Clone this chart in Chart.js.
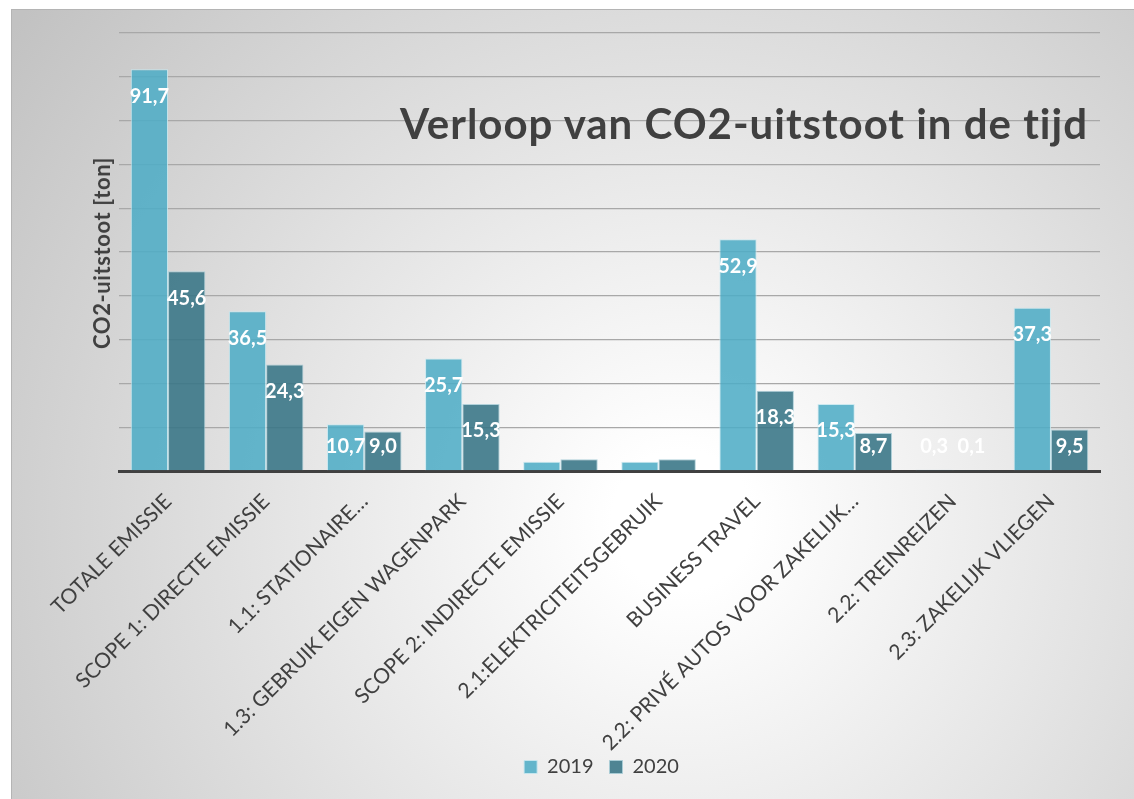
<!DOCTYPE html>
<html>
<head>
<meta charset="utf-8">
<script src="https://cdn.jsdelivr.net/npm/chart.js@4"></script>
<style>
    html, body { margin: 0; padding: 0; background: #ffffff; }
    #frame {
        position: absolute; left: 11px; top: 9px; width: 1130px; height: 800px;
        border-left: 1px solid #b4b4b4; border-top: 1px solid #b4b4b4;
        background: radial-gradient(circle at 670px 510px, #ffffff 0px, #ffffff 70px, #c2c2c2 830px);
    }
    #wrap { position: absolute; left: 0; top: 0; width: 1134px; height: 799px; }
    #titel {
        position: absolute; right: 46px; top: 98px; line-height: 1.2;
        font-family: Lato, sans-serif; font-weight: bold; font-size: 42px;
        letter-spacing: 1px; color: #404040; white-space: nowrap;
    }
    #ytitel {
        position: absolute; left: 102px; top: 253px;
        transform: translate(-50%, -50%) rotate(-90deg);
        font-family: Lato, sans-serif; font-weight: bold; font-size: 22px;
        letter-spacing: 0.6px; color: #404040; white-space: nowrap; line-height: 1;
    }
</style>
</head>
<body>
<div id="frame"></div>
<div id="wrap"><canvas id="chartCO2" width="1134" height="799"></canvas></div>
<div id="titel">Verloop van CO2-uitstoot in de tijd</div>
<div id="ytitel">CO2-uitstoot [ton]</div>
<script>
// Categorieën en waarden (ton CO2)
const categorieen = [
    'TOTALE EMISSIE',
    'SCOPE 1: DIRECTE EMISSIE',
    '1.1: STATIONAIRE…',
    '1.3: GEBRUIK EIGEN WAGENPARK',
    'SCOPE 2: INDIRECTE EMISSIE',
    '2.1:ELEKTRICITEITSGEBRUIK',
    'BUSINESS TRAVEL',
    '2.2: PRIVÉ AUTOS VOOR ZAKELIJK…',
    '2.2: TREINREIZEN',
    '2.3: ZAKELIJK VLIEGEN'
];
const waarden2019 = [91.7, 36.5, 10.7, 25.7, 2.1, 2.1, 52.9, 15.3, 0.3, 37.3];
const waarden2020 = [45.6, 24.3, 9.0, 15.3, 2.7, 2.7, 18.3, 8.7, 0.1, 9.5];
const jaren = ['2019', '2020'];
// categorieën zonder datalabel in het origineel
const zonderLabel = [4, 5];
const yMax = 100;
const yStap = 10;

const FONT = 'Lato, sans-serif';
const TEKST = '#404040';

// Datalabels binnen de bovenkant van de balk
const dataLabelPlugin = {
    id: 'dataLabels',
    afterDatasetsDraw(chart) {
        const ctx = chart.ctx;
        const basis = chart.scales.y.getPixelForValue(0);
        ctx.save();
        ctx.font = 'bold 20px ' + FONT;
        ctx.fillStyle = '#ffffff';
        ctx.textAlign = 'center';
        ctx.textBaseline = 'middle';
        chart.data.datasets.forEach((ds, i) => {
            const meta = chart.getDatasetMeta(i);
            meta.data.forEach((bar, j) => {
                if (zonderLabel.includes(j)) return;
                const y = Math.min(bar.y + 27, basis - 24);
                ctx.fillText(ds.data[j].toFixed(1).replace('.', ','), bar.x, y);
            });
        });
        ctx.restore();
    }
};

// Legenda iets naar rechts en omhoog, zoals in het origineel
const legendaVerschuiving = {
    id: 'legendaVerschuiving',
    afterLayout(chart) {
        const lg = chart.legend;
        if (lg) {
            lg.left += 46;
            lg.right += 46;
            lg.top -= 12;
            lg.bottom -= 12;
        }
    }
};

const ctx = document.getElementById('chartCO2');
new Chart(ctx, {
    type: 'bar',
    data: {
        labels: categorieen,
        datasets: [{
            label: jaren[0],
            data: waarden2019,
            backgroundColor: 'rgba(78, 172, 198, 0.87)',
            borderColor: 'rgba(200, 232, 240, 0.9)',
            borderWidth: 1
        }, {
            label: jaren[1],
            data: waarden2020,
            backgroundColor: 'rgba(55, 116, 133, 0.88)',
            borderColor: 'rgba(170, 205, 215, 0.9)',
            borderWidth: 1
        }]
    },
    options: {
        responsive: false,
        animation: false,
        layout: { padding: { left: 11, right: 34, top: 33, bottom: 0 } },
        categoryPercentage: 0.76,
        barPercentage: 1.0,
        plugins: {
            legend: {
                position: 'bottom',
                labels: {
                    font: { family: FONT, size: 20 },
                    color: TEKST,
                    boxWidth: 13,
                    boxHeight: 13,
                    padding: 16
                }
            },
            tooltip: { enabled: false }
        },
        scales: {
            x: {
                grid: { display: false, drawTicks: false },
                border: { display: true, color: '#404040', width: 3 },
                ticks: {
                    color: TEKST,
                    font: { family: FONT, size: 21 },
                    minRotation: 45,
                    maxRotation: 45,
                    autoSkip: false,
                    padding: 18
                },
                afterFit(scale) { scale.height = 282; }
            },
            y: {
                min: 0,
                max: yMax,
                ticks: { display: false, stepSize: yStap },
                grid: { color: '#a8a8a8', lineWidth: 1.3, drawTicks: false },
                border: { display: false },
                afterFit(scale) { scale.width = 108; }
            }
        }
    },
    plugins: [dataLabelPlugin, legendaVerschuiving]
});
</script>
</body>
</html>
